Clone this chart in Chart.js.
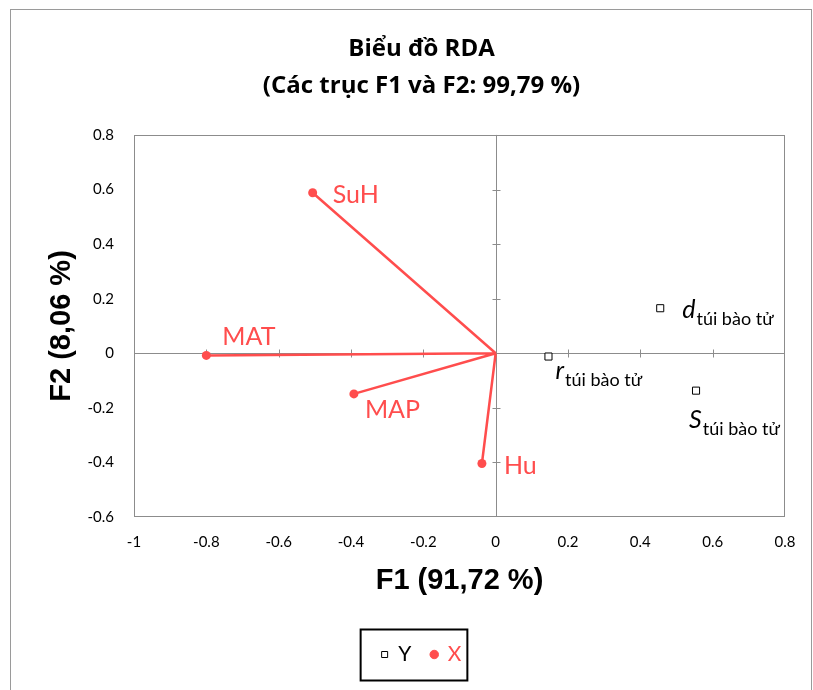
<!DOCTYPE html>
<html>
<head>
<meta charset="utf-8">
<script src="https://cdn.jsdelivr.net/npm/chart.js@4.4.1/dist/chart.umd.min.js"></script>
<style>
  html, body { margin: 0; padding: 0; background: #fff; }
  #wrap { position: relative; width: 813px; height: 690px; overflow: hidden; }
  #frame { position: absolute; left: 10px; top: 9px; width: 802px; height: 700px; border: 1.5px solid #9a9a9a; border-bottom: none; box-sizing: border-box; }
  canvas { position: absolute; left: 0; top: 0; }
</style>
</head>
<body>
<div id="wrap">
  <div id="frame"></div>
  <canvas id="rdaChart" width="813" height="690"></canvas>
</div>
<script>
// X variables (vectors from the origin)
const xNames = ['SuH', 'MAT', 'MAP', 'Hu'];
const xF1 = [-0.506, -0.800, -0.392, -0.038];
const xF2 = [0.588, -0.008, -0.149, -0.404];

// Y variables (squares)
const yNames = ['d', 'r', 'S'];
const ySub = 'túi bào tử';
const yF1 = [0.455, 0.146, 0.554];
const yF2 = [0.165, -0.012, -0.137];

const RED = '#FF4D4D';
const GREY = '#8c8c8c';

// label offsets from each point (left edge, baseline)
const xLabelOff = [[20, 10], [16, -10], [11, 24], [22, 10]];
const yLabelOff = [[22, 10], [7, 22], [-7, 37]];

const vecData = [];
xNames.forEach((n, i) => {
    vecData.push({x: 0, y: 0}, {x: xF1[i], y: xF2[i]}, {x: NaN, y: NaN});
});
const yData = yNames.map((n, i) => ({x: yF1[i], y: yF2[i]}));

const padL = 58;

const axesPlugin = {
    id: 'zeroAxes',
    beforeDatasetsDraw(chart) {
        const {ctx, chartArea: a, scales: {x, y}} = chart;
        ctx.save();
        ctx.strokeStyle = GREY;
        ctx.lineWidth = 1;
        ctx.strokeRect(Math.round(a.left) + 0.5, Math.round(a.top) + 0.5,
            Math.round(a.width) - 1, Math.round(a.height) - 1);
        const x0 = Math.round(x.getPixelForValue(0)) + 0.5;
        const y0 = Math.round(y.getPixelForValue(0)) + 0.5;
        ctx.beginPath();
        ctx.moveTo(a.left, y0); ctx.lineTo(a.right, y0);
        ctx.moveTo(x0, a.top); ctx.lineTo(x0, a.bottom);
        x.ticks.forEach(t => {
            if (t.value <= x.min || t.value >= x.max) return;
            const px = Math.round(x.getPixelForValue(t.value)) + 0.5;
            ctx.moveTo(px, y0 - 4); ctx.lineTo(px, y0 + 4);
        });
        y.ticks.forEach(t => {
            if (t.value <= y.min || t.value >= y.max) return;
            const py = Math.round(y.getPixelForValue(t.value)) + 0.5;
            ctx.moveTo(x0 - 4, py); ctx.lineTo(x0 + 4, py);
        });
        ctx.stroke();
        ctx.restore();
    },
    afterDatasetsDraw(chart) {
        const ctx = chart.ctx;
        ctx.save();
        ctx.textBaseline = 'alphabetic';
        ctx.textAlign = 'left';
        // X labels
        const vm = chart.getDatasetMeta(1);
        ctx.fillStyle = RED;
        ctx.font = '25px Lato';
        xNames.forEach((n, i) => {
            const p = vm.data[i * 3 + 1];
            ctx.fillText(n, p.x + xLabelOff[i][0], p.y + xLabelOff[i][1]);
        });
        // Y labels with subscript
        const ym = chart.getDatasetMeta(0);
        ctx.fillStyle = '#000';
        yNames.forEach((n, i) => {
            const p = ym.data[i];
            const lx = p.x + yLabelOff[i][0];
            const ly = p.y + yLabelOff[i][1];
            ctx.font = 'italic 25px Lato';
            ctx.fillText(n, lx, ly);
            const w = ctx.measureText(n).width;
            ctx.font = '18px Lato';
            ctx.fillText(ySub, lx + w + 1, ly + 7);
        });
        ctx.restore();
    },
    afterDraw(chart) {
        const hb = chart.legend.legendHitBoxes;
        if (!hb || !hb.length) return;
        const last = hb[hb.length - 1];
        const cy = hb[0].top + hb[0].height / 2;
        const ctx = chart.ctx;
        ctx.save();
        ctx.strokeStyle = '#000';
        ctx.lineWidth = 2;
        ctx.strokeRect(hb[0].left - 21, cy - 25, last.left + last.width + 6 - (hb[0].left - 21), 51);
        ctx.restore();
    }
};

new Chart(document.getElementById('rdaChart'), {
    type: 'scatter',
    data: {
        datasets: [{
            label: 'Y',
            data: yData,
            pointStyle: 'rect',
            pointRadius: 5,
            pointHoverRadius: 5,
            backgroundColor: '#fff',
            borderColor: '#000',
            borderWidth: 1
        }, {
            label: 'X',
            data: vecData,
            showLine: true,
            spanGaps: false,
            pointStyle: 'circle',
            pointRadius: c => (c.dataIndex % 3 === 1 ? 4.5 : 0),
            pointHoverRadius: c => (c.dataIndex % 3 === 1 ? 4.5 : 0),
            pointBorderWidth: 0,
            backgroundColor: RED,
            borderColor: RED,
            borderWidth: 2.5
        }]
    },
    options: {
        responsive: false,
        animation: false,
        events: [],
        layout: {
            padding: {left: padL, right: 28, top: 0, bottom: 15}
        },
        plugins: {
            title: {
                display: true,
                text: ['Biểu đồ RDA', '(Các trục F1 và F2: 99,79 %)'],
                color: '#000',
                font: {family: 'Open Sans', size: 24, weight: 'bold', lineHeight: 1.54},
                padding: {top: 31, bottom: 30}
            },
            legend: {
                display: true,
                position: 'bottom',
                labels: {
                    usePointStyle: true,
                    boxWidth: 6,
                    boxHeight: 6,
                    padding: 20,
                    font: {family: 'Lato', size: 21},
                    generateLabels(chart) {
                        const items = Chart.defaults.plugins.legend.labels.generateLabels(chart);
                        items.forEach(it => {
                            it.fontColor = it.text === 'X' ? RED : '#000';
                            it.lineWidth = 1;
                        });
                        return items;
                    }
                }
            },
            tooltip: {enabled: false}
        },
        scales: {
            x: {
                type: 'linear',
                min: -1,
                max: 0.8,
                grid: {display: false, drawTicks: false},
                border: {display: false},
                ticks: {
                    stepSize: 0.2,
                    padding: 16,
                    color: '#000',
                    font: {family: 'Lato', size: 15},
                    callback: v => String(Math.round(v * 10) / 10)
                },
                title: {
                    display: true,
                    text: 'F1 (91,72 %)',
                    color: '#000',
                    font: {family: 'Liberation Sans', size: 29, weight: 'bold'},
                    padding: {top: 0, bottom: 26}
                },
                afterFit(scale) { scale.height = 107; }
            },
            y: {
                type: 'linear',
                min: -0.6,
                max: 0.8,
                grid: {display: false, drawTicks: false},
                border: {display: false},
                ticks: {
                    stepSize: 0.2,
                    padding: 20,
                    color: '#000',
                    font: {family: 'Lato', size: 15},
                    callback: v => String(Math.round(v * 10) / 10)
                },
                title: {
                    display: true,
                    text: 'F2 (8,06 %)',
                    color: '#000',
                    font: {family: 'Liberation Sans', size: 29, weight: 'bold'},
                    padding: {top: -13.4, bottom: 0}
                },
                afterFit(scale) { scale.width = 134 - padL; }
            }
        }
    },
    plugins: [axesPlugin]
});
</script>
</body>
</html>
